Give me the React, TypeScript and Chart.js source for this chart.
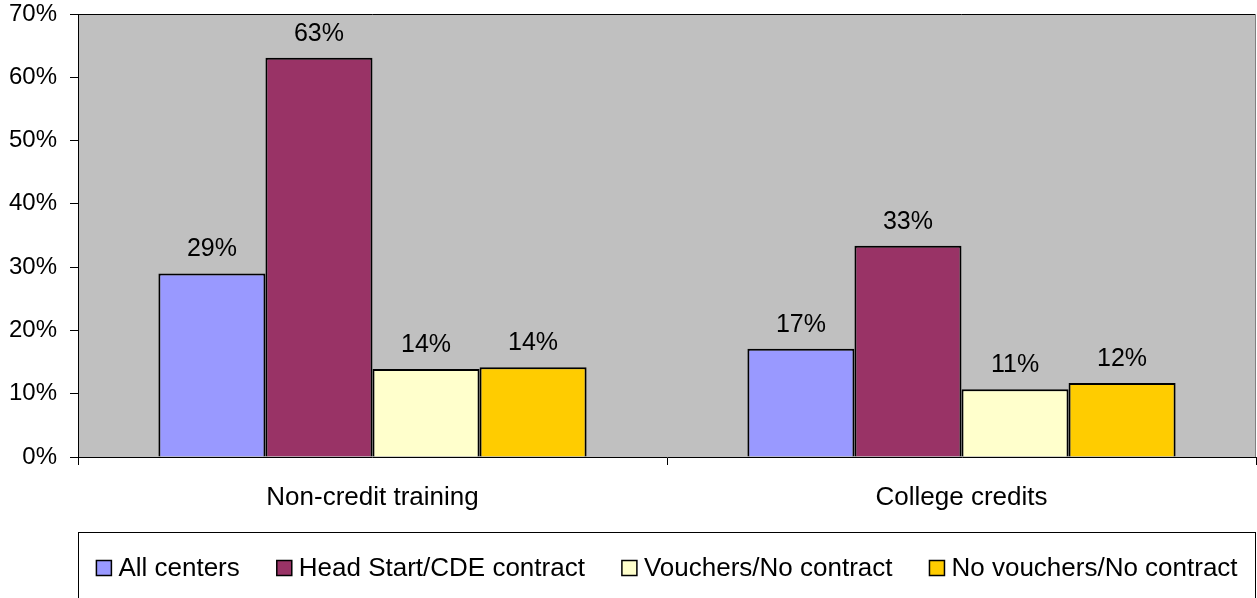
import React, { useEffect, useRef } from "react";
import { Chart, registerables } from "chart.js";

Chart.register(...registerables);

const categories = ["Non-credit training", "College credits"];
const seriesNames = ["All centers", "Head Start/CDE contract", "Vouchers/No contract", "No vouchers/No contract"];
const allCenters = [29.0, 17.1];
const headStart = [63.1, 33.4];
const vouchers = [13.9, 10.7];
const noVouchers = [14.2, 11.7];
const seriesColors = ["#9999FF", "#993366", "#FFFFCC", "#FFCC00"];
const yTicks = [0, 10, 20, 30, 40, 50, 60, 70];

const FONT = "Liberation Sans, Arial, sans-serif";

const plotBg = {
  id: "plotBg",
  beforeDraw(chart: any) {
    const { ctx, chartArea: a } = chart;
    ctx.save();
    ctx.fillStyle = "#C0C0C0";
    ctx.fillRect(a.left, a.top, a.right - a.left, a.bottom - a.top);
    ctx.restore();
  },
  afterDraw(chart: any) {
    const { ctx, chartArea: a } = chart;
    ctx.save();
    ctx.lineWidth = 1;
    ctx.strokeStyle = "#000";
    ctx.beginPath();
    ctx.moveTo(a.left, a.top + 0.5);
    ctx.lineTo(a.right, a.top + 0.5);
    ctx.stroke();
    ctx.strokeStyle = "#808080";
    ctx.beginPath();
    ctx.moveTo(a.right - 0.5, a.top);
    ctx.lineTo(a.right - 0.5, a.bottom);
    ctx.stroke();
    ctx.restore();
  },
};

const dataLabels = {
  id: "dataLabels",
  afterDatasetsDraw(chart: any) {
    const { ctx } = chart;
    ctx.save();
    ctx.font = `25px ${FONT}`;
    ctx.fillStyle = "#000";
    ctx.textAlign = "center";
    ctx.textBaseline = "alphabetic";
    chart.data.datasets.forEach((ds: any, i: number) => {
      const meta = chart.getDatasetMeta(i);
      meta.data.forEach((el: any, j: number) => {
        const v = ds.data[j];
        ctx.fillText(Math.round(v) + "%", el.x, el.y - 17);
      });
    });
    ctx.restore();
  },
};

const boxLegend = {
  id: "boxLegend",
  afterDraw(chart: any) {
    const { ctx, chartArea: a } = chart;
    const top = 532;
    ctx.save();
    ctx.strokeStyle = "#000";
    ctx.lineWidth = 1;
    ctx.strokeRect(a.left + 0.5, top + 0.5, a.right - a.left - 1, 100);
    ctx.font = `26px ${FONT}`;
    const box = 15;
    const gapBoxText = 7;
    const gapItems = 37;
    const items = chart.data.datasets.map((ds: any) => ({
      label: ds.label,
      color: ds.backgroundColor,
      w: ctx.measureText(ds.label).width,
    }));
    const total = items.reduce((s: number, it: any) => s + box + gapBoxText + it.w, 0) + gapItems * (items.length - 1);
    let x = a.left + (a.right - a.left - total) / 2;
    const cy = 568;
    ctx.textBaseline = "middle";
    ctx.textAlign = "left";
    items.forEach((it: any) => {
      ctx.fillStyle = it.color;
      ctx.fillRect(x, cy - box / 2, box, box);
      ctx.lineWidth = 1.5;
      ctx.strokeStyle = "#000";
      ctx.strokeRect(x, cy - box / 2, box, box);
      ctx.fillStyle = "#000";
      ctx.fillText(it.label, x + box + gapBoxText, cy + 1);
      x += box + gapBoxText + it.w + gapItems;
    });
    ctx.restore();
  },
};

export default function App() {
  const ref = useRef<HTMLCanvasElement>(null);
  useEffect(() => {
    if (!ref.current) return;
    const values = [allCenters, headStart, vouchers, noVouchers];
    const chart = new Chart(ref.current, {
      type: "bar",
      data: {
        labels: categories,
        datasets: seriesNames.map((name, i) => ({
          label: name,
          data: values[i],
          backgroundColor: seriesColors[i],
          borderColor: "#000",
          borderWidth: 2,
          categoryPercentage: 0.727,
          barPercentage: 1.0,
        })),
      },
      options: {
        responsive: true,
        maintainAspectRatio: false,
        animation: false,
        layout: { padding: { top: 14, right: 1, left: 0, bottom: 0 } },
        plugins: {
          legend: { display: false },
          tooltip: { enabled: false },
        },
        scales: {
          x: {
            grid: {
              offset: true,
              drawOnChartArea: false,
              drawTicks: true,
              tickLength: 8,
              color: "#000",
            },
            border: { color: "#000", width: 1 },
            ticks: {
              font: { family: FONT, size: 26 },
              color: "#000",
              padding: 17,
              maxRotation: 0,
            },
            afterFit: (s: any) => {
              s.height = 141;
              s.paddingLeft = 0;
              s.paddingRight = 0;
            },
          },
          y: {
            min: 0,
            max: 70,
            afterBuildTicks: (s: any) => {
              s.ticks = yTicks.map((v) => ({ value: v }));
            },
            grid: {
              drawOnChartArea: false,
              drawTicks: true,
              tickLength: 8,
              color: "#000",
            },
            border: { color: "#000", width: 1 },
            ticks: {
              font: { family: FONT, size: 24 },
              color: "#000",
              padding: 13,
              callback: (v: any) => v + "%",
            },
            afterFit: (s: any) => {
              s.width = 78;
              s.paddingTop = 0;
              s.paddingBottom = 0;
            },
          },
        },
      },
      plugins: [plotBg, dataLabels, boxLegend],
    });
    return () => chart.destroy();
  }, []);
  return (
    <div style={{ position: "fixed", left: 0, top: 0, width: 1257, height: 598, background: "#fff" }}>
      <canvas ref={ref} />
    </div>
  );
}
